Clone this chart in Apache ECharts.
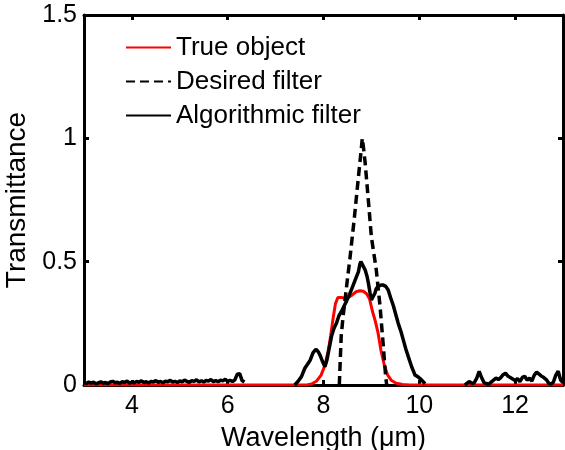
<!DOCTYPE html>
<html>
<head>
<meta charset="utf-8">
<title>Transmittance vs wavelength</title>
<script src="https://cdn.jsdelivr.net/npm/echarts@6/dist/echarts.min.js"></script>
<style>
  html, body { margin: 0; padding: 0; background: #fff; }
  #chart { width: 565px; height: 450px; }
</style>
</head>
<body>
<div id="chart"></div>
<script>
// Tick labels
const xTicks = [4, 6, 8, 10, 12];
const yTicks = [0, 0.5, 1, 1.5];

// True object spectrum
const trueWl = [3.0, 7.65, 7.75, 7.85, 7.95, 8.03, 8.10, 8.15, 8.20, 8.25, 8.30, 8.38, 8.45, 8.52, 8.60, 8.68, 8.76, 8.83, 8.90, 8.96, 9.02, 9.08, 9.14, 9.20, 9.27, 9.34, 9.42, 9.52, 9.65, 9.8, 13.0];
const trueT  = [0, 0, 0.004, 0.015, 0.04, 0.08, 0.14, 0.20, 0.27, 0.33, 0.355, 0.355, 0.35, 0.355, 0.365, 0.378, 0.382, 0.38, 0.37, 0.35, 0.30, 0.26, 0.21, 0.14, 0.08, 0.04, 0.018, 0.007, 0.002, 0, 0];

// Desired filter
const desiredWl = [8.33, 8.35, 8.37, 8.41, 8.45, 8.50, 8.55, 8.64, 8.73, 8.79, 8.81, 8.83, 8.87, 8.94, 9.00, 9.10, 9.18, 9.25, 9.30, 9.32];
const desiredT  = [0, 0.10, 0.20, 0.28, 0.345, 0.43, 0.51, 0.67, 0.845, 0.96, 1.0, 0.97, 0.90, 0.74, 0.60, 0.47, 0.32, 0.155, 0.03, 0];

// Algorithmic filter: short-wave noise floor, main band, long-wave noise floor
const algoLowWl = [3.00, 3.05, 3.10, 3.15, 3.20, 3.25, 3.30, 3.35, 3.40, 3.45, 3.50, 3.55, 3.60, 3.65, 3.70, 3.75, 3.80, 3.85, 3.90, 3.95,
  4.00, 4.05, 4.10, 4.15, 4.20, 4.25, 4.30, 4.35, 4.40, 4.45, 4.50, 4.55, 4.60, 4.65, 4.70, 4.75, 4.80, 4.85, 4.90, 4.95,
  5.00, 5.05, 5.10, 5.15, 5.20, 5.25, 5.30, 5.35, 5.40, 5.45, 5.50, 5.55, 5.60, 5.65, 5.70, 5.75, 5.80, 5.85, 5.90, 5.95,
  6.00, 6.05, 6.10, 6.15, 6.20, 6.25, 6.30, 6.35];
const algoLowT = [0.010, 0.006, 0.012, 0.008, 0.011, 0.005, 0.009, 0.013, 0.007, 0.010, 0.006, 0.012, 0.015, 0.009, 0.011, 0.007, 0.013, 0.010, 0.016, 0.008,
  0.012, 0.009, 0.014, 0.011, 0.017, 0.010, 0.013, 0.008, 0.015, 0.012, 0.018, 0.011, 0.014, 0.009, 0.016, 0.013, 0.019, 0.012, 0.015, 0.010,
  0.017, 0.013, 0.020, 0.014, 0.011, 0.018, 0.015, 0.021, 0.013, 0.017, 0.012, 0.019, 0.016, 0.022, 0.014, 0.018, 0.013, 0.020, 0.017, 0.023,
  0.015, 0.019, 0.014, 0.021, 0.044, 0.046, 0.018, 0.012];

const algoBandWl = [7.40, 7.47, 7.54, 7.61, 7.67, 7.72, 7.78, 7.84, 7.89, 7.93, 7.98, 8.03, 8.07, 8.10, 8.14, 8.17, 8.22, 8.27, 8.32, 8.38,
  8.43, 8.48, 8.55, 8.60, 8.66, 8.73, 8.76, 8.78, 8.82, 8.87, 8.91, 8.94, 8.97, 9.00, 9.04, 9.07, 9.10, 9.14, 9.20, 9.25,
  9.30, 9.35, 9.40, 9.46, 9.51, 9.56, 9.62, 9.67, 9.72, 9.77, 9.84, 9.88, 9.91, 9.96, 10.01, 10.06, 10.12];
const algoBandT = [0.0, 0.015, 0.034, 0.068, 0.085, 0.10, 0.13, 0.145, 0.135, 0.12, 0.095, 0.074, 0.10, 0.13, 0.17, 0.20, 0.23, 0.25, 0.28, 0.30,
  0.32, 0.34, 0.37, 0.395, 0.425, 0.46, 0.49, 0.50, 0.485, 0.466, 0.44, 0.41, 0.375, 0.345, 0.36, 0.37, 0.39, 0.40, 0.405, 0.405,
  0.40, 0.385, 0.355, 0.32, 0.285, 0.25, 0.215, 0.18, 0.145, 0.115, 0.074, 0.055, 0.04, 0.035, 0.027, 0.018, 0.005];

const algoHighWl = [10.95, 11.00, 11.05, 11.10, 11.15, 11.20, 11.25, 11.30, 11.35, 11.40, 11.45, 11.50, 11.55, 11.60, 11.65, 11.70, 11.75, 11.80, 11.85, 11.90,
  11.95, 12.00, 12.05, 12.10, 12.15, 12.20, 12.25, 12.30, 12.35, 12.40, 12.45, 12.50, 12.55, 12.60, 12.65, 12.70, 12.75, 12.80, 12.85, 12.90, 12.95, 13.00];
const algoHighT = [0.000, 0.008, 0.014, 0.006, 0.010, 0.028, 0.055, 0.030, 0.010, 0.006, 0.003, 0.012, 0.020, 0.028, 0.022, 0.030, 0.042, 0.048, 0.036, 0.030,
  0.024, 0.018, 0.026, 0.014, 0.030, 0.036, 0.020, 0.028, 0.016, 0.040, 0.052, 0.044, 0.036, 0.030, 0.022, 0.008, 0.004, 0.012, 0.040, 0.056, 0.020, 0.010];

const pairs = (xs, ys) => xs.map((x, i) => [x, ys[i]]);
const gap = (x) => [[x, '-']];

const algoData = [].concat(
  pairs(algoLowWl, algoLowT), gap(6.9),
  pairs(algoBandWl, algoBandT), gap(10.5),
  pairs(algoHighWl, algoHighT)
);

const FONT = 'Liberation Sans, Arial, Helvetica, sans-serif';
const frameLine = { show: true, onZero: false, lineStyle: { color: '#000', width: 3 } };
const innerTick = { show: true, inside: true, length: 5, lineStyle: { color: '#000', width: 3 } };

const chart = echarts.init(document.getElementById('chart'));
chart.setOption({
  animation: false,
  backgroundColor: '#fff',
  grid: { left: 84, right: 2, top: 15, bottom: 65, containLabel: false, outerBoundsMode: 'none' },
  legend: {
    orient: 'vertical',
    left: 125,
    top: 34,
    padding: 0,
    itemWidth: 45,
    itemHeight: 14,
    itemGap: 7,
    itemStyle: { opacity: 0 },
    textStyle: { fontFamily: FONT, fontSize: 26, color: '#000', lineHeight: 27 },
    data: ['True object', 'Desired filter', 'Algorithmic filter']
  },
  xAxis: [
    {
      type: 'value', min: 3, max: 13, position: 'bottom',
      name: 'Wavelength (\u03bcm)', nameLocation: 'middle', nameGap: 40,
      nameTextStyle: { fontFamily: FONT, fontSize: 27, color: '#000' },
      axisLine: frameLine,
      axisTick: Object.assign({ customValues: xTicks }, innerTick),
      axisLabel: { customValues: xTicks, fontFamily: FONT, fontSize: 25, color: '#000', margin: 9 },
      splitLine: { show: false }
    },
    {
      type: 'value', min: 3, max: 13, position: 'top',
      axisLine: frameLine,
      axisTick: Object.assign({ customValues: xTicks }, innerTick),
      axisLabel: { show: false },
      splitLine: { show: false }
    }
  ],
  yAxis: [
    {
      type: 'value', min: 0, max: 1.5, interval: 0.5, position: 'left',
      name: 'Transmittance', nameLocation: 'middle', nameGap: 47, nameRotate: 90,
      nameTextStyle: { fontFamily: FONT, fontSize: 28, color: '#000' },
      axisLine: frameLine,
      axisTick: innerTick,
      axisLabel: {
        fontFamily: FONT, fontSize: 25, color: '#000', margin: 7,
        formatter: (v) => String(yTicks.find(t => Math.abs(t - v) < 1e-9) ?? v)
      },
      splitLine: { show: false }
    },
    {
      type: 'value', min: 0, max: 1.5, interval: 0.5, position: 'right',
      axisLine: frameLine,
      axisTick: innerTick,
      axisLabel: { show: false },
      splitLine: { show: false }
    }
  ],
  series: [
    {
      name: 'True object', type: 'line', xAxisIndex: 0, yAxisIndex: 0,
      data: pairs(trueWl, trueT), showSymbol: false, symbol: 'none',
      lineStyle: { color: '#ff0000', width: 3 }, itemStyle: { color: '#ff0000' }
    },
    {
      name: 'Desired filter', type: 'line', xAxisIndex: 0, yAxisIndex: 0,
      data: pairs(desiredWl, desiredT), showSymbol: false, symbol: 'none',
      lineStyle: { color: '#000', width: 3.5, type: [9, 5] }, itemStyle: { color: '#000' }
    },
    {
      name: 'Algorithmic filter', type: 'line', xAxisIndex: 0, yAxisIndex: 0,
      data: algoData, showSymbol: false, symbol: 'none', connectNulls: false,
      lineStyle: { color: '#000', width: 3.5 }, itemStyle: { color: '#000' }
    }
  ]
});
</script>
</body>
</html>
